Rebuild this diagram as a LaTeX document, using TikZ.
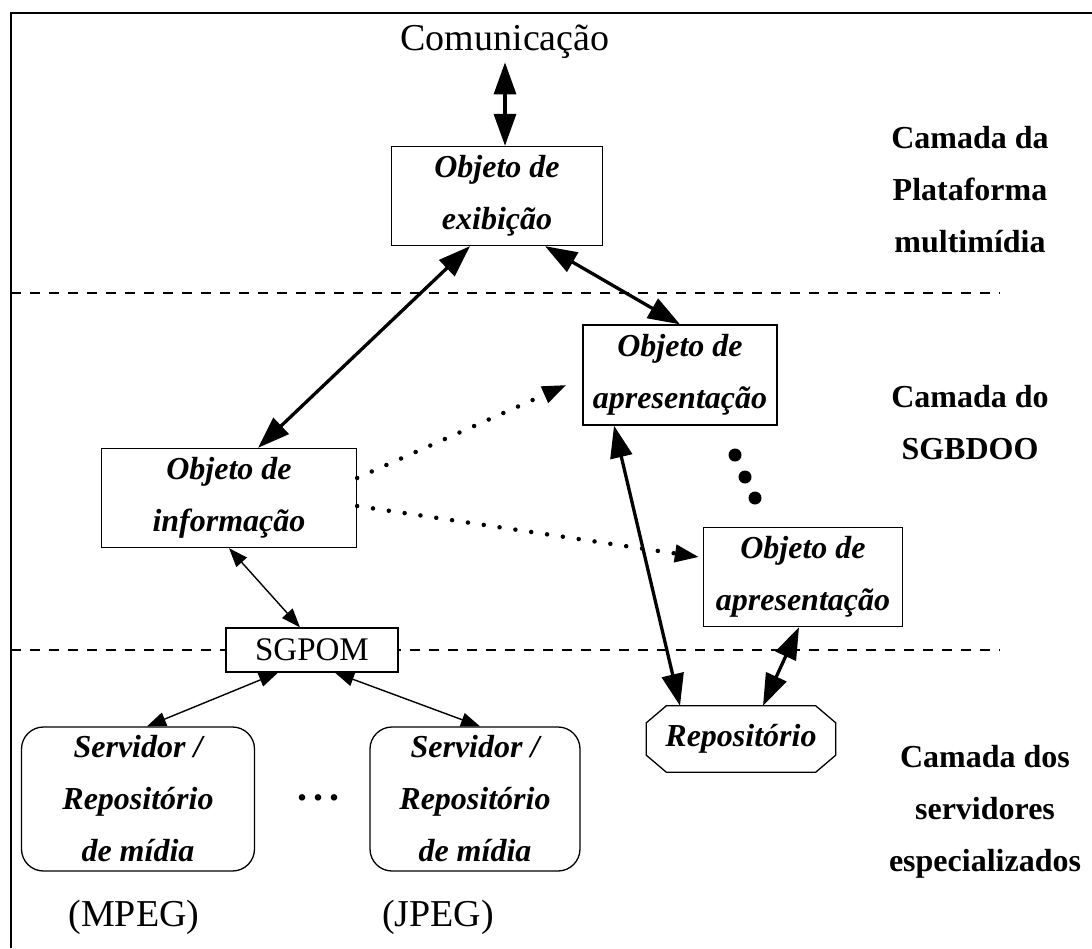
\documentclass[tikz,border=0pt]{standalone}
\usepackage{fontspec}
\setmainfont{Liberation Serif}
\usetikzlibrary{arrows.meta,calc}

\begin{document}
\begin{tikzpicture}[x=1pt,y=-1pt,
  objbox/.style={draw,fill=white,line width=1.3pt,align=center,inner sep=0pt,
    font=\fontsize{32}{52}\selectfont\bfseries\itshape},
  layertext/.style={align=center,font=\fontsize{32}{52}\selectfont\bfseries},
  bigarrow/.style={{Triangle[length=32pt,width=22pt]}-{Triangle[length=32pt,width=22pt]},line width=3.3pt},
  smallarrow/.style={{Triangle[length=19pt,width=14pt]}-{Triangle[length=19pt,width=14pt]},line width=1.4pt},
  dotarrow/.style={-{Triangle[length=24pt,width=17pt]},line width=4.5pt,line cap=round,dash pattern=on 0pt off 16pt},
  layerline/.style={line width=1.3pt,dash pattern=on 10pt off 9pt}]
\useasboundingbox (0,0) rectangle (1092,948);

% frame and layer borders
\draw[line width=2.5pt] (11,948) -- (11,13) -- (1092,13);
\draw[layerline] (11,293) -- (1000,293);
\draw[layerline] (11,650) -- (1000,650);

\node[font=\fontsize{38}{44}\selectfont] (com) at (505,42) {Comunicação};
\node[objbox,minimum width=211pt,minimum height=99pt] (exib) at (497,196) {Objeto de\\exibição};
\node[objbox,minimum width=194pt,minimum height=100pt] (apres1) at (680,375) {Objeto de\\apresentação};
\node[objbox,minimum width=255pt,minimum height=99pt] (info) at (229,498) {Objeto de\\informação};
\node[objbox,minimum width=199pt,minimum height=99pt] (apres2) at (803,577) {Objeto de\\apresentação};
\node[draw,fill=white,line width=1.3pt,minimum width=172pt,minimum height=44pt,
  font=\fontsize{33}{38}\selectfont] (sgpom) at (312,650) {SGPOM};
\node[objbox,rounded corners=22pt,minimum width=233pt,minimum height=144pt] (serv1) at (138,799) {Servidor /\\Repositório\\de mídia};
\node[objbox,rounded corners=22pt,minimum width=210pt,minimum height=144pt] (serv2) at (475,799) {Servidor /\\Repositório\\de mídia};
\node[font=\fontsize{32}{52}\selectfont\bfseries\itshape,minimum width=189pt,minimum height=66pt] (repo) at (741,739) {Repositório};
\node[font=\fontsize{38}{44}\selectfont] (mpeg) at (134,917) {(MPEG)};
\node[font=\fontsize{38}{44}\selectfont] (jpeg) at (438,917) {(JPEG)};
\node[font=\fontsize{40}{44}\selectfont\bfseries] (sdots) at (318,798) {.\hspace{6pt}.\hspace{6pt}.};

\node[layertext] (platf) at (970,190) {Camada da\\Plataforma\\multimídia};
\node[layertext] (sgbdoo) at (970,423) {Camada do\\SGBDOO};
\node[layertext] (servs) at (985,812) {Camada dos\\servidores\\especializados};

% repository outline
\draw[line width=1.3pt] ($(repo.north west)+(20,0)$) -- ($(repo.north east)+(-20,0)$)
  -- ($(repo.north east)+(0,17)$) -- ($(repo.south east)+(0,-17)$)
  -- ($(repo.south east)+(-20,0)$) -- ($(repo.south west)+(20,0)$)
  -- ($(repo.south west)+(0,-17)$) -- ($(repo.north west)+(0,17)$) -- cycle;

% more presentation objects
\fill (735,455) circle (6.5pt);
\fill (745,477) circle (6.5pt);
\fill (755,498) circle (6.5pt);

\draw[bigarrow] (com.south) -- (com.south |- exib.north);
\draw[bigarrow] ($(exib.south)+(-27,0)$) -- ($(info.north)+(29,0)$);
\draw[bigarrow] ($(exib.south)+(48,0)$) -- (apres1.north);
\draw[dotarrow] ($(info.east)+(0,-20)$) -- ($(apres1.west)+(-16,10)$);
\draw[dotarrow] ($(info.east)+(0,8)$) -- ($(apres2.west)+(-4,-20)$);
\draw[bigarrow] ($(apres1.south)+(-66,0)$) -- ($(repo.north)+(-61,0)$);
\draw[bigarrow] ($(apres2.south)+(-4,0)$) -- ($(repo.north)+(22,0)$);
\draw[smallarrow] (info.south) -- ($(sgpom.north)+(-12,0)$);
\draw[smallarrow] ($(sgpom.south)+(-34,0)$) -- ($(serv1.north)+(9,0)$);
\draw[smallarrow] ($(sgpom.south)+(23,0)$) -- ($(serv2.north)+(5,0)$);
\end{tikzpicture}
\end{document}
